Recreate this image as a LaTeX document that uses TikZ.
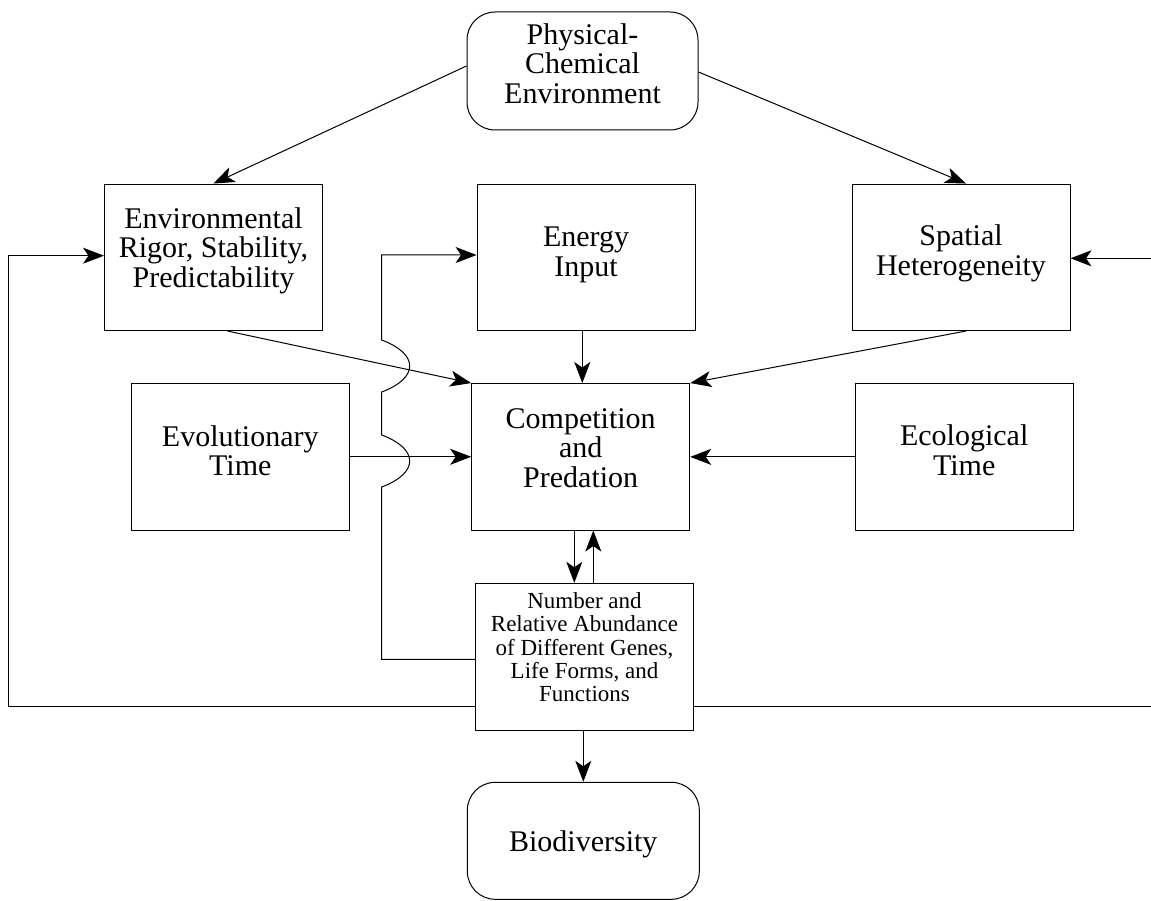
\documentclass[tikz,border=0pt]{standalone}
\usepackage{fontspec}
\setmainfont{Liberation Serif}
\usetikzlibrary{arrows.meta,calc}

\begin{document}
\begin{tikzpicture}[x=1pt,y=-1pt,
  line width=1pt,
  block/.style={draw,inner sep=0pt,minimum width=218pt,minimum height=146.5pt},
  roundblock/.style={draw,inner sep=0pt,rounded corners=28pt},
  txt/.style={align=center,inner sep=0pt,font=\fontsize{30}{29.5}\selectfont},
  smalltxt/.style={align=center,inner sep=0pt,font=\fontsize{23}{23.3}\selectfont},
  arr/.style={-{Stealth[length=21pt,width=16pt,inset=5.5pt]}}]

\useasboundingbox (0,0) rectangle (1151,901);

% boxes
\node[roundblock,minimum width=231pt,minimum height=118pt] (phys) at (582.5,71) {};
\node[block] (env)     at (213.5,257.3) {};
\node[block] (energy)  at (586.1,257.3) {};
\node[block] (spatial) at (961,257.3) {};
\node[block] (evol)    at (240.3,456.8) {};
\node[block] (comp)    at (580.7,456.8) {};
\node[block] (ecol)    at (964.2,456.9) {};
\node[block,minimum height=147.4pt] (num) at (584.5,657) {};
\node[roundblock,minimum width=232pt,minimum height=117pt] (bio) at (583.3,840.8) {};

% labels
\node[txt] (physT)    at ($(phys.center)+(0,-7.3)$) {Physical-\\Chemical\\Environment};
\node[txt] (envT)     at ($(env.center)+(0,-6.8)$) {Environmental\\Rigor, Stability,\\Predictability};
\node[txt] (energyT)  at ($(energy.center)+(0,-2.3)$) {Energy\\Input};
\node[txt] (spatialT) at ($(spatial.center)+(0,-4)$) {Spatial\\Heterogeneity};
\node[txt] (evolT)    at ($(evol.center)+(0,-6.2)$) {Evolutionary\\Time};
\node[txt] (compT)    at ($(comp.center)+(0,-8.8)$) {Competition\\and\\Predation};
\node[txt] (ecolT)    at ($(ecol.center)+(0,-6.8)$) {Ecological\\Time};
\node[smalltxt] (numT) at ($(num.center)+(0,-9.8)$) {Number and\\Relative Abundance\\of Different Genes,\\Life Forms, and\\Functions};
\node[txt] (bioT)     at ($(bio.center)+(0,3.9)$) {Biodiversity};

% influences from the physical-chemical environment
\draw[arr] ($(phys.west)+(0,-5)$) -- (env.north);
\draw[arr] ($(phys.east)+(0,1)$) -- ($(spatial.north)+(5,0)$);

% influences on competition and predation
\draw[arr] ($(env.south)+(14,0)$) -- (comp.north west);
\draw[arr] (energy.south -| 582.3,0) -- (comp.north -| 582.3,0);
\draw[arr] ($(spatial.south)+(5,0)$) -- (comp.north east);
\draw[arr] (evol.east) -- (evol.east -| comp.west);
\draw[arr] (ecol.west) -- (ecol.west -| comp.east);

% exchange between competition and diversity
\draw[arr] (comp.south -| 574.3,0) -- (num.north -| 574.3,0);
\draw[arr] (num.north -| 593.3,0) -- (comp.south -| 593.3,0);
\draw[arr] (num.south -| bio.north) -- (bio.north);

% feedback to energy input, hopping over two connectors
\coordinate (fbE) at (381.7,255);
\draw[arr] ($(num.west)+(0,2.3)$) -- (fbE |- 0,659.3) -- (fbE |- 0,487)
  .. controls (419,473) and (419,449) .. (fbE |- 0,435) -- (fbE |- 0,392)
  .. controls (419,378) and (419,354) .. (fbE |- 0,340) -- (fbE)
  -- (fbE -| energy.west);

% feedback to environmental rigor
\coordinate (fbL) at (8.3,255.7);
\draw[arr] ($(num.west)+(0,49)$) -- (fbL |- 0,706) -- (fbL) -- (fbL -| env.west);

% feedback to spatial heterogeneity, running off the right edge
\coordinate (fbR1) at (1151,706);
\coordinate (fbR2) at (1151,258.3);
\draw ($(num.east)+(0,49)$) -- (fbR1);
\draw[arr] (fbR2) -- (fbR2 -| spatial.east);

\end{tikzpicture}
\end{document}
